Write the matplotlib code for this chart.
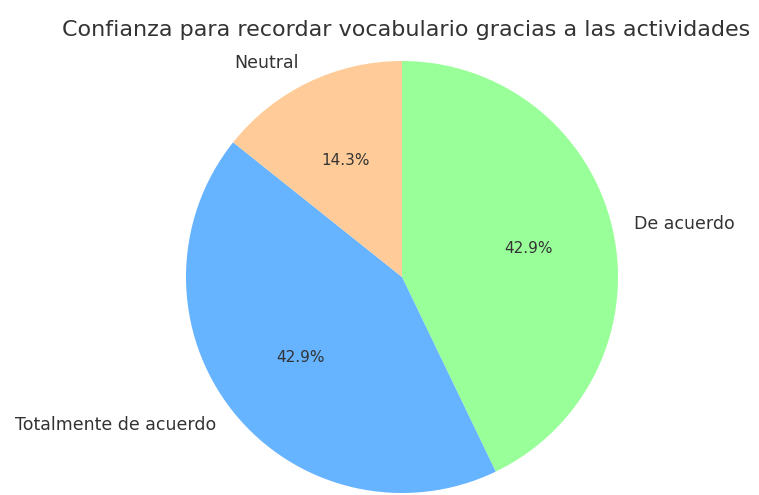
import matplotlib
matplotlib.use("Agg")
import matplotlib.pyplot as plt

labels = ["De acuerdo", "Totalmente de acuerdo", "Neutral"]
counts = [3, 3, 1]
colors = ["#99ff99", "#66b3ff", "#ffcc99"]
title = "Confianza para recordar vocabulario gracias a las actividades"

W, H = 759, 495
fig = plt.figure(figsize=(W / 100, H / 100), dpi=100)

# pie centre and radius in pixels
cx, cy, r = 402, 277, 216
ax = fig.add_axes([(cx - r) / W, (H - cy - r) / H, 2 * r / W, 2 * r / H])

wedges, texts, autotexts = ax.pie(
    counts,
    labels=labels,
    colors=colors,
    autopct="%1.1f%%",
    startangle=90,
    counterclock=False,
    textprops={"fontsize": 12.5, "color": "#333333"},
)
for t in autotexts:
    t.set_fontsize(11)
ax.set_xlim(-1, 1)
ax.set_ylim(-1, 1)
ax.set_aspect("equal")
ax.axis("off")

fig.text(406 / W, 1 - 30 / H, title, ha="center", va="center", fontsize=16, color="#333333")

fig.savefig("out.png", dpi=100)
